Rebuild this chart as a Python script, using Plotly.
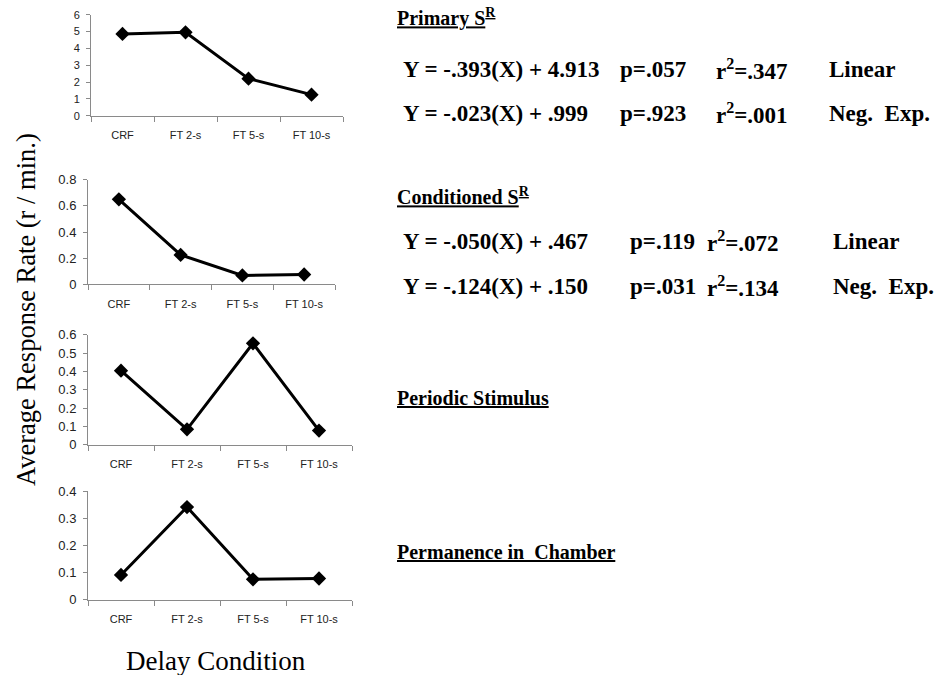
import plotly.graph_objects as go

W, H = 936, 675

categories = ["CRF", "FT 2-s", "FT 5-s", "FT 10-s"]
primary = [4.86, 4.95, 2.2, 1.25]
conditioned = [0.65, 0.225, 0.068, 0.075]
periodic = [0.404, 0.084, 0.553, 0.077]
permanence = [0.091, 0.341, 0.075, 0.078]

series = [primary, conditioned, periodic, permanence]
y_ranges = [[0, 6], [0, 0.8], [0, 0.6], [0, 0.4]]
y_dticks = [1, 0.2, 0.1, 0.1]

headings = ["Primary S<sup>R</sup>", "Conditioned S<sup>R</sup>",
            "Periodic Stimulus", "Permanence in&nbsp; Chamber"]
eq_text = ["Y = -.393(X) + 4.913", "Y = -.023(X) + .999",
           "Y = -.050(X) + .467", "Y = -.124(X) + .150"]
p_text = ["p=.057", "p=.923", "p=.119", "p=.031"]
r2_text = ["r<sup>2</sup>=.347", "r<sup>2</sup>=.001",
           "r<sup>2</sup>=.072", "r<sup>2</sup>=.134"]
model_text = ["Linear", "Neg.&nbsp; Exp.", "Linear", "Neg.&nbsp; Exp."]

# pixel layout of panels: (x_left, x_right, y_top, y_bottom)
panels = [(91, 343, 14.7, 115.7),
          (88, 335, 179.7, 284.3),
          (88, 352, 334.7, 444.7),
          (88, 352, 491, 599.7)]
ytick_sizes = [11, 13, 13, 13]

fig = go.Figure()
layout = dict(
    width=W, height=H,
    margin=dict(l=0, r=0, t=0, b=0, autoexpand=False),
    paper_bgcolor="white", plot_bgcolor="white",
    showlegend=False,
)
axis_color = "#8a8a8a"
for i, (vals, (x0, x1, yt, yb)) in enumerate(zip(series, panels)):
    n = "" if i == 0 else str(i + 1)
    fig.add_trace(go.Scatter(
        x=categories, y=vals, mode="lines+markers",
        line=dict(color="black", width=3),
        marker=dict(symbol="diamond", size=11, color="black"),
        xaxis="x" + n, yaxis="y" + n, cliponaxis=False,
    ))
    layout["xaxis" + n] = dict(
        domain=[x0 / W, x1 / W], anchor="y" + n, automargin=False,
        type="category", categoryorder="array", categoryarray=categories,
        range=[-0.5, 3.5], tickson="boundaries",
        showline=True, linecolor=axis_color, linewidth=1,
        ticks="outside", ticklen=5, tickcolor=axis_color, tickwidth=1,
        showgrid=False, zeroline=False,
        tickfont=dict(family="Liberation Sans", size=11, color="#222"),
        ticklabelstandoff=9,
    )
    layout["yaxis" + n] = dict(
        domain=[1 - yb / H, 1 - yt / H], anchor="x" + n, automargin=False,
        range=y_ranges[i], dtick=y_dticks[i], tick0=0,
        showline=True, linecolor=axis_color, linewidth=1,
        ticks="outside", ticklen=4, tickcolor=axis_color, tickwidth=1,
        showgrid=False, zeroline=False,
        tickfont=dict(family="Liberation Sans", size=ytick_sizes[i], color="#222"),
        ticklabelstandoff=4,
    )

annotations = []

def add_text(text, px, py, size, bold=True, xanchor="left", angle=0):
    annotations.append(dict(
        text=("<b>%s</b>" % text) if bold else text,
        x=px / W, y=1 - py / H, xref="paper", yref="paper",
        xanchor=xanchor, yanchor="middle", showarrow=False, textangle=angle,
        font=dict(family="Liberation Serif", size=size, color="black"),
    ))

heading_y = [17, 196, 398, 552]
for t, py in zip(headings, heading_y):
    add_text("<u>%s</u>" % t, 395, py, 20)

eq_y = [69, 113, 241, 287]
p_x = [618, 618, 628, 628]
r2_x = [714, 714, 705, 705]
m_x = [827, 827, 831, 831]
for k in range(4):
    add_text(eq_text[k], 401, eq_y[k], 23)
    add_text(p_text[k], p_x[k], eq_y[k], 23)
    add_text(r2_text[k], r2_x[k], eq_y[k], 23)
    add_text(model_text[k], m_x[k], eq_y[k], 23)

add_text("Average Response Rate (r / min.)", 26, 310, 26.5, bold=False,
         xanchor="center", angle=-90)
add_text("Delay Condition", 216, 661, 27, bold=False, xanchor="center")

layout["annotations"] = annotations
fig.update_layout(**layout)
fig.write_html(
    "out.html",
    config={"displayModeBar": False},
    post_script="document.body.style.margin='0px';document.body.style.overflow='hidden';",
)
